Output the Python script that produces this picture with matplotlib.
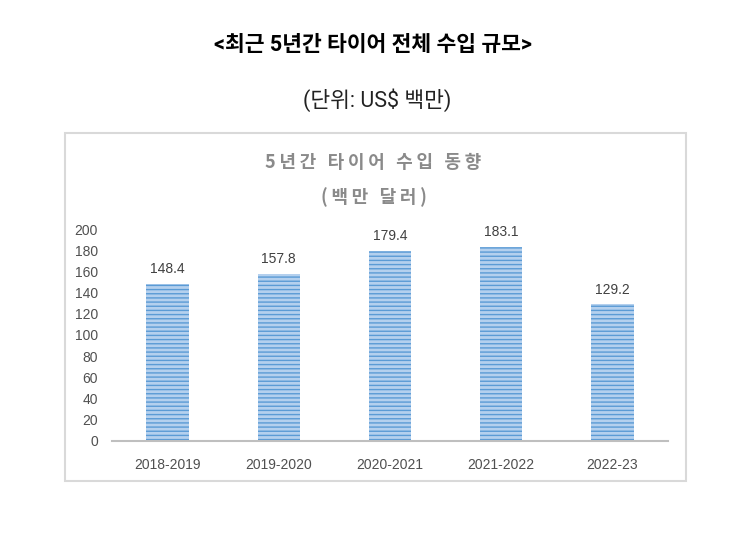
import matplotlib.pyplot as plt
from matplotlib.patches import Rectangle

plt.rcParams['font.family'] = ['Roboto', 'Noto Sans CJK KR', 'DejaVu Sans']
plt.rcParams['hatch.linewidth'] = 1.0

# 데이터
periods = ['2018-2019', '2019-2020', '2020-2021', '2021-2022', '2022-23']
values = [148.4, 157.8, 179.4, 183.1, 129.2]
yticks = [0, 20, 40, 60, 80, 100, 120, 140, 160, 180, 200]

fig = plt.figure(figsize=(7.5, 5.46), dpi=100)

# 제목
fig.text(0.497, 1 - 45 / 546, '<최근 5년간 타이어 전체 수입 규모>', ha='center', va='center',
         fontsize=15.5, fontweight='bold', color='black')
fig.text(0.503, 1 - 100 / 546, '(단위: US$ 백만)', ha='center', va='center',
         fontsize=15.5, color='#222222')

# 차트 박스
fig.patches.append(Rectangle((65 / 750, 1 - 481 / 546), 621 / 750, 348 / 546,
                             transform=fig.transFigure, fill=False,
                             edgecolor='#d9d9d9', linewidth=1.5))
ts = '\u2009'
fig.text(0.498, 1 - 163 / 546, ts.join('5년간 타이어 수입 동향'), ha='center', va='center',
         fontsize=13, fontweight='bold', color='#8a8a8a',
         family=['Noto Sans CJK KR', 'DejaVu Sans'])
fig.text(0.498, 1 - 197 / 546, ts.join('(백만 달러)'), ha='center', va='center',
         fontsize=13, fontweight='bold', color='#8a8a8a',
         family=['Noto Sans CJK KR', 'DejaVu Sans'])

ax = fig.add_axes([112 / 750, 1 - 441 / 546, 556 / 750, 212 / 546])
x = range(len(periods))
ax.bar(x, values, width=0.38, color='#b4d0ee', edgecolor='#5b9bd5',
       hatch='----', linewidth=0)
for i, v in enumerate(values):
    ax.text(i, v + 7, f'{v:.1f}', ha='center', va='bottom', fontsize=10, color='#404040',
            family=['Liberation Sans'])

ax.set_ylim(0, 200)
ax.set_xlim(-0.5, 4.5)
ax.set_yticks(yticks)
ax.set_xticks(list(x))
ax.set_xticklabels(periods)
for lab in ax.get_xticklabels() + ax.get_yticklabels():
    lab.set_family(['Liberation Sans'])
    lab.set_fontsize(10)
    lab.set_color('#505050')
ax.tick_params(length=0)
ax.tick_params(axis='x', pad=12)
ax.tick_params(axis='y', pad=10)
for s in ['top', 'right', 'left']:
    ax.spines[s].set_visible(False)
ax.spines['bottom'].set_color('#bfbfbf')
ax.spines['bottom'].set_linewidth(1.5)

fig.savefig('out.png', dpi=100)
